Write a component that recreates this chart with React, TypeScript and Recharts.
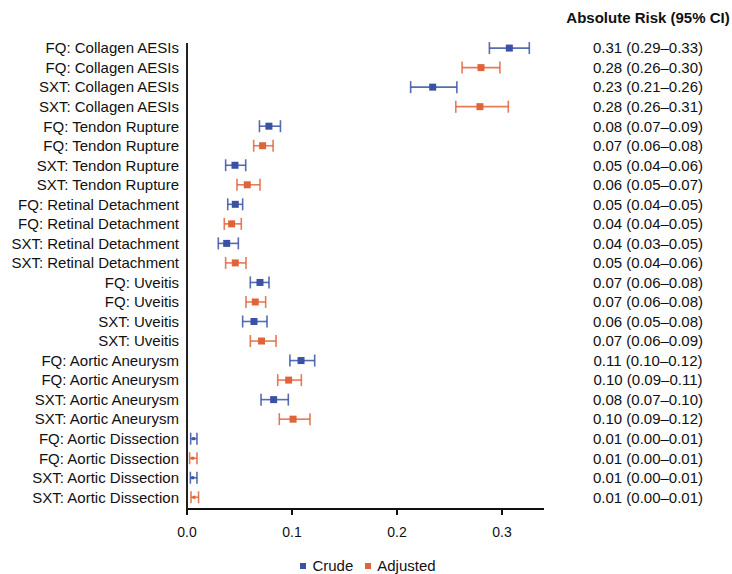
import React from "react";
import {
  ScatterChart,
  Scatter,
  XAxis,
  YAxis,
  ErrorBar,
} from "recharts";

const labels = [
  "FQ: Collagen AESIs",
  "FQ: Collagen AESIs",
  "SXT: Collagen AESIs",
  "SXT: Collagen AESIs",
  "FQ: Tendon Rupture",
  "FQ: Tendon Rupture",
  "SXT: Tendon Rupture",
  "SXT: Tendon Rupture",
  "FQ: Retinal Detachment",
  "FQ: Retinal Detachment",
  "SXT: Retinal Detachment",
  "SXT: Retinal Detachment",
  "FQ: Uveitis",
  "FQ: Uveitis",
  "SXT: Uveitis",
  "SXT: Uveitis",
  "FQ: Aortic Aneurysm",
  "FQ: Aortic Aneurysm",
  "SXT: Aortic Aneurysm",
  "SXT: Aortic Aneurysm",
  "FQ: Aortic Dissection",
  "FQ: Aortic Dissection",
  "SXT: Aortic Dissection",
  "SXT: Aortic Dissection",
];

const riskText = [
  "0.31 (0.29–0.33)",
  "0.28 (0.26–0.30)",
  "0.23 (0.21–0.26)",
  "0.28 (0.26–0.31)",
  "0.08 (0.07–0.09)",
  "0.07 (0.06–0.08)",
  "0.05 (0.04–0.06)",
  "0.06 (0.05–0.07)",
  "0.05 (0.04–0.05)",
  "0.04 (0.04–0.05)",
  "0.04 (0.03–0.05)",
  "0.05 (0.04–0.06)",
  "0.07 (0.06–0.08)",
  "0.07 (0.06–0.08)",
  "0.06 (0.05–0.08)",
  "0.07 (0.06–0.09)",
  "0.11 (0.10–0.12)",
  "0.10 (0.09–0.11)",
  "0.08 (0.07–0.10)",
  "0.10 (0.09–0.12)",
  "0.01 (0.00–0.01)",
  "0.01 (0.00–0.01)",
  "0.01 (0.00–0.01)",
  "0.01 (0.00–0.01)",
];

// crude = even rows, adjusted = odd rows
const crudeEst = [0.307, 0.234, 0.078, 0.0457, 0.046, 0.0378, 0.0695, 0.0638, 0.1086, 0.0825, 0.0063, 0.0054];
const crudeLo = [0.288, 0.213, 0.069, 0.0368, 0.0388, 0.0298, 0.0603, 0.053, 0.098, 0.0705, 0.0035, 0.0032];
const crudeHi = [0.326, 0.257, 0.089, 0.0559, 0.053, 0.0489, 0.0781, 0.0762, 0.1216, 0.0965, 0.0095, 0.0095];

const adjEst = [0.28, 0.279, 0.072, 0.0574, 0.0425, 0.046, 0.065, 0.071, 0.0968, 0.101, 0.0054, 0.0067];
const adjLo = [0.262, 0.256, 0.0635, 0.0476, 0.0355, 0.0368, 0.0562, 0.0603, 0.0864, 0.0879, 0.0025, 0.0038];
const adjHi = [0.298, 0.306, 0.082, 0.0695, 0.0517, 0.0562, 0.0749, 0.0848, 0.1089, 0.1171, 0.0095, 0.011];

// marker side per pair (dissection rows drawn with a small dot)
const markerSize = [7, 7, 7, 7, 7, 7, 7, 7, 7, 7, 3, 3];

const xTicks = [0, 0.1, 0.2, 0.3];

const BLUE = "#3a52a3";
const ORANGE = "#e0643a";
const FONT = "'Liberation Sans', Arial, sans-serif";

const crudeData = crudeEst.map((v, i) => ({
  row: i * 2,
  est: v,
  err: [v - crudeLo[i], crudeHi[i] - v],
  size: markerSize[i],
}));
const adjData = adjEst.map((v, i) => ({
  row: i * 2 + 1,
  est: v,
  err: [v - adjLo[i], adjHi[i] - v],
  size: markerSize[i],
}));

const rowTicks = labels.map((_, i) => i);

const Square = (props: any) => {
  const { cx, cy, fill, payload } = props;
  const s = payload?.size ?? 7;
  return <rect x={cx - s / 2} y={cy - s / 2} width={s} height={s} fill={fill} />;
};

const LeftTick = (props: any) => {
  const { x, y, payload } = props;
  return (
    <text x={x} y={y} dy="0.355em" textAnchor="end" fontSize={15} fill="#111" fontFamily={FONT}>
      {labels[payload.value]}
    </text>
  );
};

const RightTick = (props: any) => {
  const { x, y, payload } = props;
  return (
    <text x={x + 96} y={y} dy="0.355em" textAnchor="middle" fontSize={15} fill="#111" fontFamily={FONT}>
      {riskText[payload.value]}
    </text>
  );
};

export default function App() {
  return (
    <div style={{ position: "absolute", left: 0, top: 0, width: 732, height: 574, background: "#fff", fontFamily: FONT }}>
      <div
        style={{
          position: "absolute",
          left: 548,
          width: 200,
          top: 9,
          textAlign: "center",
          fontSize: 15,
          fontWeight: "bold",
          color: "#111",
        }}
      >
        Absolute Risk (95% CI)
      </div>
      <ScatterChart width={732} height={574} margin={{ top: 43, right: 0, bottom: 35, left: 0 }}>
        <XAxis
          type="number"
          dataKey="est"
          domain={[0, 0.34]}
          ticks={xTicks}
          tickFormatter={(v: number) => v.toFixed(1)}
          axisLine={{ stroke: "#111", strokeWidth: 2 }}
          tickLine={{ stroke: "#111", strokeWidth: 2 }}
          tickSize={6}
          tickMargin={12}
          height={30}
          tick={{ fontSize: 14, fill: "#111", fontFamily: FONT }}
        />
        <YAxis
          yAxisId="left"
          type="number"
          dataKey="row"
          domain={[-0.26, 23.6]}
          reversed
          ticks={rowTicks}
          interval={0}
          width={187}
          axisLine={{ stroke: "#222", strokeWidth: 2 }}
          tickLine={false}
          tick={<LeftTick />}
        />
        <YAxis
          yAxisId="right"
          orientation="right"
          type="number"
          dataKey="row"
          domain={[-0.26, 23.6]}
          reversed
          ticks={rowTicks}
          interval={0}
          width={188}
          axisLine={false}
          tickLine={false}
          tick={<RightTick />}
        />
        <Scatter yAxisId="left" name="Crude" data={crudeData} fill={BLUE} shape={<Square />} isAnimationActive={false}>
          <ErrorBar dataKey="err" direction="x" width={6} stroke={BLUE} strokeWidth={1.6} strokeOpacity={0.85} />
        </Scatter>
        <Scatter yAxisId="right" name="Adjusted" data={adjData} fill={ORANGE} shape={<Square />} isAnimationActive={false}>
          <ErrorBar dataKey="err" direction="x" width={6} stroke={ORANGE} strokeWidth={1.6} strokeOpacity={0.85} />
        </Scatter>
      </ScatterChart>
      <div
        style={{
          position: "absolute",
          left: 0,
          width: 732,
          top: 557,
          display: "flex",
          justifyContent: "center",
          alignItems: "center",
          fontSize: 15,
          color: "#111",
          paddingLeft: 2,
        }}
      >
        <span style={{ display: "inline-block", width: 6, height: 6, background: BLUE, marginRight: 6 }} />
        <span style={{ marginRight: 12 }}>Crude</span>
        <span style={{ display: "inline-block", width: 6, height: 6, background: ORANGE, marginRight: 6 }} />
        <span>Adjusted</span>
      </div>
    </div>
  );
}
